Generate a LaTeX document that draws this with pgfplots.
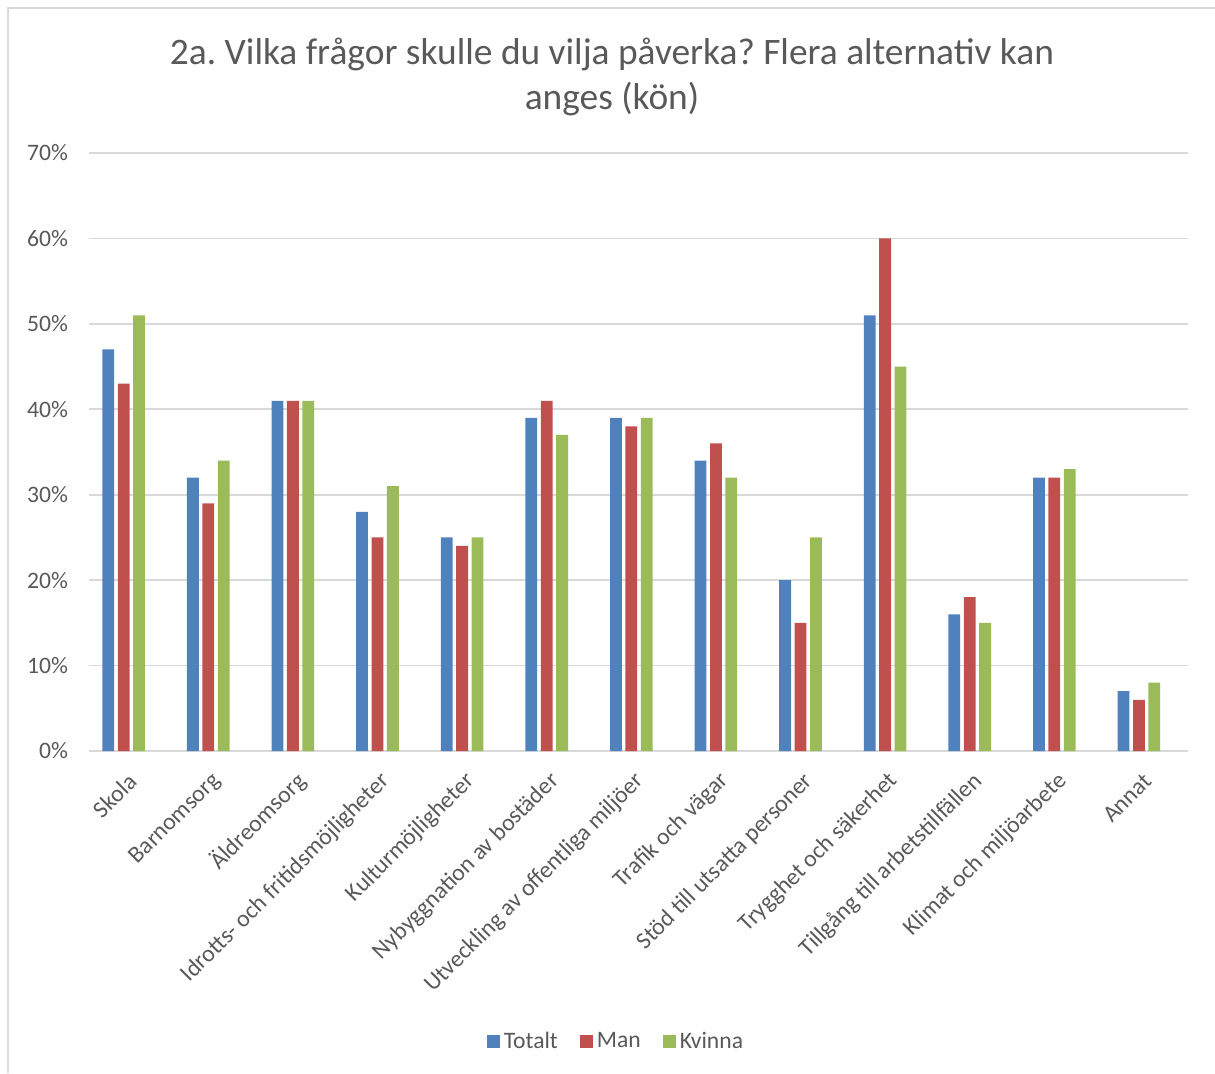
\documentclass[border=0pt]{standalone}
\usepackage{fontspec}
\setmainfont{Carlito}
\usepackage{pgfplots}
\pgfplotsset{compat=1.18}
\definecolor{cT}{HTML}{4F81BD}
\definecolor{cM}{HTML}{C0504D}
\definecolor{cK}{HTML}{9BBB59}
\definecolor{txt}{HTML}{595959}
\definecolor{grd}{HTML}{D9D9D9}
\frenchspacing
\begin{document}
\begin{tikzpicture}[x=1pt,y=1pt]
\useasboundingbox (-44.5,-161) rectangle (563,375.5);
\draw[grd, line width=0.9pt] (-40.5,-161) -- (-40.5,371.5) -- (563,371.5);
\node[anchor=base, text=txt, font=\fontsize{18.7}{23}\selectfont] at (261.5,343) {2a. Vilka frågor skulle du vilja påverka? Flera alternativ kan};
\node[anchor=base, text=txt, font=\fontsize{18.7}{23}\selectfont] at (261.5,320.5) {anges (kön)};
\begin{axis}[at={(0,0)}, anchor=south west, scale only axis,
  width=549.5pt, height=299pt,
  xmin=-0.41, xmax=12.58, ymin=0, ymax=70,
  ybar=1.8pt, bar width=5.9pt,
  axis line style={draw=none},
  major tick length=0pt,
  ymajorgrids, grid style={grd, line width=0.8pt},
  ytick={0,10,...,70},
  yticklabels={0\%,10\%,20\%,30\%,40\%,50\%,60\%,70\%},
  yticklabel style={text=txt, font=\fontsize{11.8}{14}\selectfont, xshift=-7pt},
  xtick={0,...,12},
  xticklabels={Skola,Barnomsorg,Äldreomsorg,Idrotts- och fritidsmöjligheter,Kulturmöjligheter,Nybyggnation av bostäder,Utveckling av offentliga miljöer,Trafik och vägar,Stöd till utsatta personer,Trygghet och säkerhet,Tillgång till arbetstillfällen,Klimat och miljöarbete,Annat},
  xticklabel style={text=txt, font=\fontsize{11.9}{14}\selectfont, xshift=6.9pt, yshift=-10.8pt, rotate=45, anchor=east},
  legend style={at={(0.4804,-0.486)}, anchor=center, draw=none, legend columns=-1,
    font=\fontsize{11.8}{14}\selectfont, text=txt,
    /tikz/every even column/.append style={column sep=9pt}},
  legend image code/.code={\fill[#1] (0pt,-3.2pt) rectangle (6.5pt,3.3pt);},
]
\addplot[fill=cT, draw=none] coordinates {(0,47) (1,32) (2,41) (3,28) (4,25) (5,39) (6,39) (7,34) (8,20) (9,51) (10,16) (11,32) (12,7)};
\addplot[fill=cM, draw=none] coordinates {(0,43) (1,29) (2,41) (3,25) (4,24) (5,41) (6,38) (7,36) (8,15) (9,60) (10,18) (11,32) (12,6)};
\addplot[fill=cK, draw=none] coordinates {(0,51) (1,34) (2,41) (3,31) (4,25) (5,37) (6,39) (7,32) (8,25) (9,45) (10,15) (11,33) (12,8)};
\legend{Totalt,Man,Kvinna}
\end{axis}
\end{tikzpicture}
\end{document}
